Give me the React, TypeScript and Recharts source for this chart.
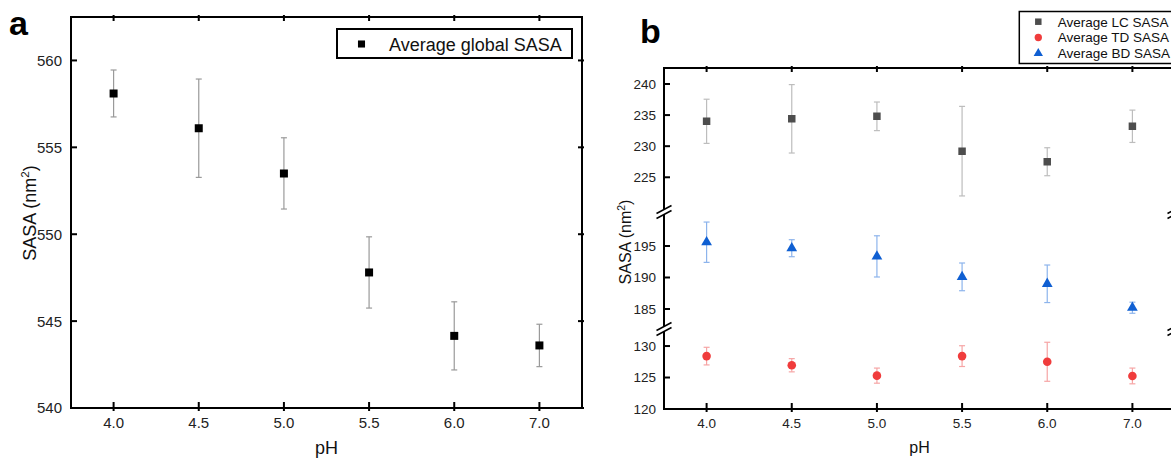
import React from "react";
import {
  ComposedChart,
  Scatter,
  XAxis,
  YAxis,
  ZAxis,
  ErrorBar,
  Symbols,
} from "recharts";

const phLabels = ["4.0", "4.5", "5.0", "5.5", "6.0", "7.0"];

// panel a: global SASA
const globalSasa = [558.1, 556.1, 553.5, 547.8, 544.15, 543.6];
const globalErr = [1.35, 2.83, 2.05, 2.05, 1.96, 1.22];
const ticksA = [540, 545, 550, 555, 560];

// panel b: LC / BD / TD SASA
const lcSasa = [234.0, 234.4, 234.8, 229.2, 227.5, 233.2];
const lcErr = [3.55, 5.5, 2.3, 7.2, 2.25, 2.6];
const bdSasa = [195.6, 194.65, 193.35, 190.1, 189.0, 185.2];
const bdErr = [3.2, 1.35, 3.27, 2.2, 2.98, 0.88];
const tdSasa = [128.4, 126.95, 125.3, 128.4, 127.5, 125.25];
const tdErr = [1.4, 1.05, 1.2, 1.65, 3.1, 1.25];
const ticksLC = [225, 230, 235, 240];
const ticksBD = [185, 190, 195];
const ticksTD = [120, 125, 130];

const FONT = "'Liberation Sans', Arial, sans-serif";
const AXIS = { stroke: "#000", strokeWidth: 2, strokeLinecap: "square" as const };
// half a category band on each side, like the original's category axis
const PAD = { left: 42.6, right: 42.6 };

const rowsA = phLabels.map((ph, i) => ({ ph, sasa: globalSasa[i], err: globalErr[i] }));
const rowsLC = phLabels.map((ph, i) => ({ ph, sasa: lcSasa[i], err: lcErr[i] }));
const rowsBD = phLabels.map((ph, i) => ({ ph, sasa: bdSasa[i], err: bdErr[i] }));
const rowsTD = phLabels.map((ph, i) => ({ ph, sasa: tdSasa[i], err: tdErr[i] }));

const bottomTick = (fs: number, dy: number) => (p: any) => (
  <g>
    <line x1={p.x} x2={p.x} y1={p.y - 6} y2={p.y + 3} stroke="#000" strokeWidth={2} />
    <text x={p.x} y={p.y + dy} textAnchor="middle" fontSize={fs} fontFamily={FONT} fill="#222">
      {p.payload.value}
    </text>
  </g>
);

const leftTick = (fs: number, gap: number) => (p: any) => (
  <g>
    <line x1={p.x} x2={p.x + 6} y1={p.y} y2={p.y} stroke="#000" strokeWidth={2} />
    <text x={p.x - gap} y={p.y} dy="0.36em" textAnchor="end" fontSize={fs} fontFamily={FONT} fill="#222">
      {p.payload.value}
    </text>
  </g>
);

const rightTick = (p: any) => (
  <line x1={p.x} x2={p.x - 6} y1={p.y} y2={p.y} stroke="#000" strokeWidth={2} />
);

const topTick = (p: any) => (
  <line x1={p.x} x2={p.x} y1={p.y} y2={p.y + 6} stroke="#000" strokeWidth={2} />
);

const sasaTitle = (x: number, y: number, fs: number) => () => (
  <text
    x={x}
    y={y}
    transform={`rotate(-90 ${x} ${y})`}
    textAnchor="middle"
    fontSize={fs}
    fontFamily={FONT}
    fill="#111"
  >
    SASA (nm
    <tspan dy={-fs * 0.4} fontSize={fs * 0.65}>2</tspan>
    <tspan dy={fs * 0.4}>)</tspan>
  </text>
);

const phTitle = (x: number, y: number, fs: number) => () => (
  <text x={x} y={y} textAnchor="middle" fontSize={fs} fontFamily={FONT} fill="#111">
    pH
  </text>
);

function PanelA() {
  return (
    <ComposedChart
      width={600}
      height={458}
      data={rowsA}
      margin={{ top: 16, right: 17, bottom: 20, left: 21 }}
    >
      <XAxis
        dataKey="ph"
        height={30}
        padding={PAD}
        axisLine={AXIS}
        tickLine={false}
        tickSize={0}
        tickMargin={0}
        tick={bottomTick(15, 20)}
        label={{ content: phTitle(326.5, 454, 18) }}
      />
      <XAxis xAxisId="top" dataKey="ph" orientation="top" height={1} padding={PAD} axisLine={AXIS} tickLine={false} tickSize={0} tick={topTick} />
      <YAxis
        type="number"
        width={50}
        domain={[540, 562.5]}
        ticks={ticksA}
        allowDataOverflow
        axisLine={AXIS}
        tickLine={false}
        tickSize={0}
        tickMargin={0}
        tick={leftTick(15, 9)}
        label={{ content: sasaTitle(36, 213, 18) }}
      />
      <YAxis
        yAxisId="right"
        orientation="right"
        type="number"
        width={1}
        domain={[540, 562.5]}
        ticks={ticksA}
        allowDataOverflow
        axisLine={AXIS}
        tickLine={false}
        tickSize={0}
        tick={rightTick}
      />
      <ZAxis range={[64, 64]} />
      <Scatter name="Average global SASA" dataKey="sasa" fill="#000" shape="square" isAnimationActive={false}>
        <ErrorBar dataKey="err" direction="y" width={3} stroke="#9a9a9a" strokeWidth={1.2} />
      </Scatter>
    </ComposedChart>
  );
}

type SegProps = {
  rows: { ph: string; sasa: number; err: number }[];
  domain: [number, number];
  ticks: number[];
  top: number;
  bottom: number;
  color: string;
  errColor: string;
  shape: "square" | "circle" | "triangle";
  size: number;
  name: string;
  showTop?: boolean;
  showBottom?: boolean;
  showTitle?: boolean;
};

function Segment(s: SegProps) {
  return (
    <ComposedChart
      width={600}
      height={458}
      data={s.rows}
      margin={{
        top: s.showTop ? s.top - 1 : s.top,
        right: 24,
        bottom: s.showBottom ? 458 - s.bottom - 30 : 458 - s.bottom,
        left: 14,
      }}
    >
      {s.showBottom ? (
        <XAxis
          dataKey="ph"
          height={30}
          padding={PAD}
          axisLine={AXIS}
          tickLine={false}
          tickSize={0}
          tickMargin={0}
          tick={bottomTick(13.5, 19)}
          label={{ content: phTitle(319.5, 453, 16) }}
        />
      ) : s.showTop ? (
        <XAxis dataKey="ph" orientation="top" height={1} padding={PAD} axisLine={AXIS} tickLine={false} tickSize={0} tick={topTick} />
      ) : (
        <XAxis dataKey="ph" padding={PAD} hide />
      )}
      <YAxis
        type="number"
        width={50}
        domain={s.domain}
        ticks={s.ticks}
        allowDataOverflow
        axisLine={AXIS}
        tickLine={false}
        tickSize={0}
        tickMargin={0}
        tick={leftTick(13.5, 8)}
        label={s.showTitle ? { content: sasaTitle(31, 242, 16) } : undefined}
      />
      <YAxis
        yAxisId="right"
        orientation="right"
        type="number"
        width={1}
        domain={s.domain}
        ticks={s.ticks}
        allowDataOverflow
        axisLine={AXIS}
        tickLine={false}
        tickSize={0}
        tick={rightTick}
      />
      <ZAxis range={[s.size, s.size]} />
      <Scatter name={s.name} dataKey="sasa" fill={s.color} shape={s.shape} isAnimationActive={false}>
        <ErrorBar dataKey="err" direction="y" width={3} stroke={s.errColor} strokeWidth={1.2} />
      </Scatter>
    </ComposedChart>
  );
}

const legendB = [
  { name: "Average LC SASA", color: "#4d4d4d", shape: "square" as const, size: 42 },
  { name: "Average TD SASA", color: "#f03c3c", shape: "circle" as const, size: 42 },
  { name: "Average BD SASA", color: "#0f5fd2", shape: "triangle" as const, size: 38 },
];

function BreakMark({ cx, cy }: { cx: number; cy: number }) {
  return (
    <g stroke="#000" strokeWidth={1.5}>
      <line x1={cx - 7.5} y1={cy + 1.5} x2={cx + 7.5} y2={cy - 6.5} />
      <line x1={cx - 7.5} y1={cy + 6.5} x2={cx + 7.5} y2={cy - 1.5} />
    </g>
  );
}

export default function App() {
  const abs = (left: number, top: number): React.CSSProperties => ({ position: "absolute", left, top });
  return (
    <div style={{ position: "relative", width: 1171, height: 458, overflow: "hidden", background: "#fff", fontFamily: FONT }}>
      <style>{`body{margin:0}`}</style>

      <div style={abs(0, 0)}>
        <PanelA />
      </div>
      <svg style={abs(0, 0)} width={600} height={80}>
        <text x={9} y={35} fontSize={34} fontWeight="bold" fontFamily={FONT}>a</text>
        <rect x={337} y={29} width={235} height={29} fill="#fff" stroke="#000" strokeWidth={2} />
        <Symbols cx={361.5} cy={44} type="square" size={50} fill="#000" />
        <text x={389} y={50.5} fontSize={18} fontFamily={FONT} fill="#111">Average global SASA</text>
      </svg>

      <div style={abs(600, 0)}>
        <Segment rows={rowsLC} domain={[219.9, 242.57]} ticks={ticksLC} top={68} bottom={209}
          color="#4d4d4d" errColor="#bdbdbd" shape="square" size={56} name="Average LC SASA" showTop />
      </div>
      <div style={abs(600, 0)}>
        <Segment rows={rowsBD} domain={[182.3, 199.92]} ticks={ticksBD} top={215} bottom={326}
          color="#0f5fd2" errColor="#8db4ec" shape="triangle" size={50} name="Average BD SASA" showTitle />
      </div>
      <div style={abs(600, 0)}>
        <Segment rows={rowsTD} domain={[120, 132.23]} ticks={ticksTD} top={332} bottom={409}
          color="#f03c3c" errColor="#f6a5a5" shape="circle" size={58} name="Average TD SASA" showBottom />
      </div>

      <svg style={abs(590, 0)} width={600} height={458}>
        <text x={50} y={43} fontSize={34} fontWeight="bold" fontFamily={FONT}>b</text>
        <rect x={429.3} y={11.5} width={180} height={52} fill="#fff" stroke="#000" strokeWidth={1.5} />
        {legendB.map((e, i) => (
          <g key={e.name}>
            <Symbols cx={448.3} cy={21.7 + i * 15.8} type={e.shape} size={e.size} fill={e.color} />
            <text x={467.7} y={21.7 + i * 15.8 + 4.8} fontSize={13.5} fontFamily={FONT} fill="#111">{e.name}</text>
          </g>
        ))}
        <BreakMark cx={74} cy={212} />
        <BreakMark cx={74} cy={329} />
        <BreakMark cx={585} cy={212} />
        <BreakMark cx={585} cy={329} />
      </svg>
    </div>
  );
}
